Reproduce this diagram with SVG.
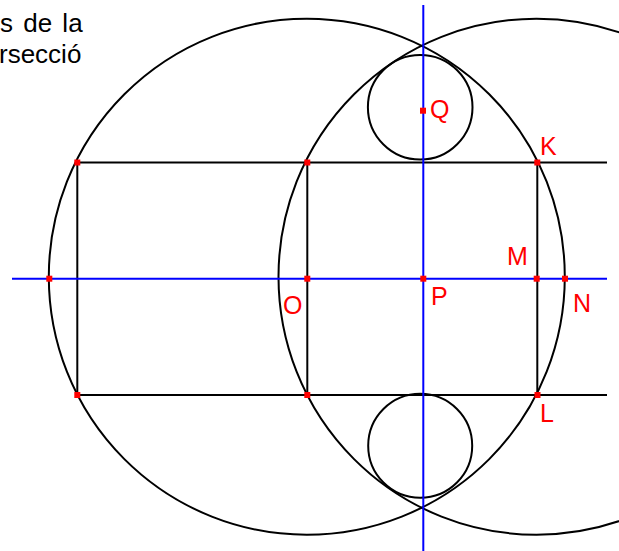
<svg xmlns="http://www.w3.org/2000/svg" width="619" height="551" viewBox="0 0 619 551">
<style>
.k{fill:none;stroke:#000;stroke-width:2}
.b{fill:none;stroke:#0000ff;stroke-width:2}
.d{fill:#ff0000}
.lb{font-family:"Liberation Sans",Arial,sans-serif;font-size:25px;fill:#ff0000}
.tx{font-family:"Liberation Sans",Arial,sans-serif;font-size:26px;fill:#000}
</style>
<rect width="619" height="551" fill="#fff"/>
<g id="text">
<text class="tx" x="0" y="31.5" word-spacing="3">s de la</text>
<text class="tx" x="-1" y="63">rsecció</text>
</g>
<g id="circles">
<circle class="k" cx="306.8" cy="276.7" r="258"/>
<circle class="k" cx="536.5" cy="276.7" r="258"/>
<circle class="k" cx="420.2" cy="107.2" r="52.3"/>
<circle class="k" cx="420.2" cy="445.8" r="52"/>
</g>
<g id="lines">
<line class="k" x1="77.3" y1="162.5" x2="607" y2="162.5"/>
<line class="k" x1="77.3" y1="395" x2="607" y2="395"/>
<line class="k" x1="77.3" y1="162.5" x2="77.3" y2="395"/>
<line class="k" x1="307.3" y1="162.5" x2="307.3" y2="395"/>
<line class="k" x1="537.3" y1="162.5" x2="537.3" y2="395"/>
<line class="b" x1="12" y1="278.7" x2="607" y2="278.7"/>
<line class="b" x1="423.3" y1="5" x2="423.3" y2="551"/>
</g>
<g id="points">
<rect class="d" x="74.3" y="159.5" width="6" height="6"/>
<rect class="d" x="304.3" y="159.5" width="6" height="6"/>
<rect class="d" x="534.3" y="159.5" width="6" height="6"/>
<rect class="d" x="74.3" y="392" width="6" height="6"/>
<rect class="d" x="304.3" y="392" width="6" height="6"/>
<rect class="d" x="534.5" y="392" width="6" height="6"/>
<rect class="d" x="46.3" y="275.7" width="6" height="6"/>
<rect class="d" x="304.3" y="275.7" width="6" height="6"/>
<rect class="d" x="420.3" y="275.7" width="6" height="6"/>
<rect class="d" x="533.7" y="275.7" width="6" height="6"/>
<rect class="d" x="562" y="275.7" width="6" height="6"/>
<rect class="d" x="420" y="107.7" width="6" height="6"/>
</g>
<g id="labels">
<text class="lb" x="430" y="118">Q</text>
<text class="lb" x="540" y="154.5">K</text>
<text class="lb" x="507" y="264.5">M</text>
<text class="lb" x="283" y="314">O</text>
<text class="lb" x="431" y="304.5">P</text>
<text class="lb" x="573" y="311.5">N</text>
<text class="lb" x="540" y="422">L</text>
</g>
</svg>
